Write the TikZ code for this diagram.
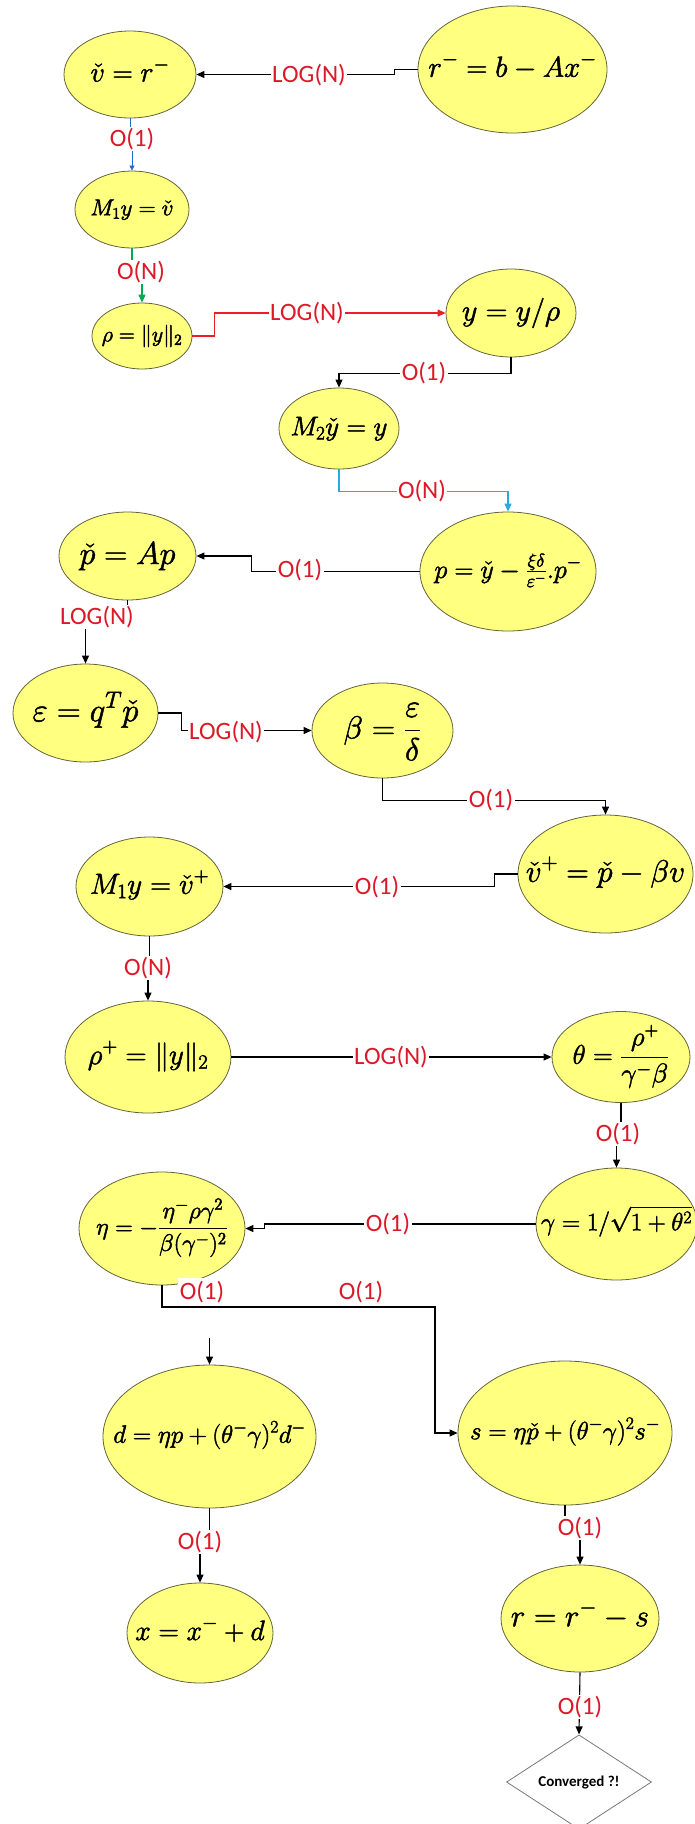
\RequirePackage{fix-cm}
\documentclass[tikz,border=0pt]{standalone}
\usepackage{amsmath}
\usepackage{fontspec}
\newfontfamily\labfont{Carlito}
\usetikzlibrary{shapes.geometric,arrows.meta,calc}
\definecolor{ellfill}{RGB}{255,255,128}
\definecolor{ellline}{RGB}{100,100,60}
\definecolor{labred}{RGB}{220,25,40}
\definecolor{conred}{RGB}{235,30,40}
\definecolor{concyan}{RGB}{40,170,225}
\definecolor{congreen}{RGB}{0,170,80}
\definecolor{conblue}{RGB}{30,110,200}
\newcommand\EQ[2]{{\fontsize{#1}{#1}\selectfont\color{black}\smash{\makebox[0pt]{\raisebox{-0.25em}{\special{pdf:literal direct 2 Tr 0.5 w}$\displaystyle #2$\special{pdf:literal direct 0 Tr}}}}}}
\begin{document}
\begin{tikzpicture}[x=1pt,y=-1pt,
  ell/.style={ellipse,draw=ellline,fill=ellfill,line width=0.8pt,inner sep=0pt},
  sz/.style 2 args={minimum width=#1,minimum height=#2},
  lbl/.style={font=\labfont\fontsize{25}{25}\selectfont,text=labred,fill=white,inner sep=1.5pt},
  conn/.style={line width=1.1pt,draw=black,-{Triangle[length=8pt,width=7pt]}},
  connred/.style={conn,draw=conred},
  conncyan/.style={conn,draw=concyan},
  conngreen/.style={conn,draw=congreen},
  connblue/.style={line width=0.6pt,draw=conblue,-{Triangle[length=5pt,width=5pt]}}]
\useasboundingbox (0,0) rectangle (695,1824);
\fill[white] (0,0) rectangle (695,1824);
% nodes
\node[ell,sz={132}{87}] (A) at (130,74.5) {\EQ{28}{\check{v} = r^-}};
\node[ell,sz={189}{127}] (B) at (512.5,69.5) {\EQ{29}{r^- = b - Ax^-}};
\node[ell,sz={114}{77}] (C) at (132,209.5) {\EQ{23}{M_1y = \check{v}}};
\node[ell,sz={100}{66}] (D) at (142,336) {\EQ{22}{\rho = \|y\|_2}};
\node[ell,sz={130}{88}] (E) at (511,313) {\EQ{30}{y = y/\rho}};
\node[ell,sz={120}{81}] (F) at (339,428.5) {\EQ{27}{M_2\check{y} = y}};
\node[ell,sz={176}{119}] (G) at (508,571.5) {\EQ{26}{p = \check{y} - \tfrac{\xi\delta}{\varepsilon^-}.p^-}};
\node[ell,sz={137}{88}] (H) at (127.5,556) {\EQ{32}{\check{p} = Ap}};
\node[ell,sz={145}{98}] (I) at (85.5,713) {\EQ{33}{\varepsilon = q^T\check{p}}};
\node[ell,sz={141}{95}] (J) at (382.5,730.5) {\EQ{32}{\beta = \frac{\varepsilon}{\delta}}};
\node[ell,sz={175}{118}] (K) at (605.5,874) {\EQ{31}{\check{v}^+ = \check{p} - \beta v}};
\node[ell,sz={147}{99}] (L) at (149.5,886.5) {\EQ{29}{M_1y = \check{v}^+}};
\node[ell,sz={166}{112}] (M) at (148,1057) {\EQ{29}{\rho^+ = \|y\|_2}};
\node[ell,sz={138}{91}] (N) at (621,1057) {\EQ{27}{\theta = \frac{\rho^+}{\gamma^-\beta}}};
\node[ell,sz={161}{112}] (O) at (616.5,1224) {\EQ{25}{\gamma = 1/\sqrt{1+\theta^2}}};
\node[ell,sz={166}{113}] (P) at (162,1228.5) {\EQ{24}{\eta = -\frac{\eta^-\rho\gamma^2}{\beta(\gamma^-)^2}}};
\node[ell,sz={213}{143}] (Q) at (209.5,1436.5) {\EQ{25}{d = \eta p + (\theta^-\gamma)^2 d^-}};
\node[ell,sz={214}{144}] (R) at (565,1433) {\EQ{25}{s = \eta\check{p} + (\theta^-\gamma)^2 s^-}};
\node[ell,sz={146}{100}] (S) at (200,1633) {\EQ{28}{x = x^- + d}};
\node[ell,sz={158}{107}] (T) at (580,1618.5) {\EQ{31}{r = r^- - s}};
\node[diamond,draw={rgb,255:red,120;green,120;blue,120},line width=0.8pt,fill=white,inner sep=0pt,
  minimum width=145,minimum height=84,font=\labfont\bfseries\fontsize{15}{15}\selectfont] (U) at (579,1782) {Converged ?!};
% connectors
\draw[conn] (B.west) -- ++(-23,0) |- (A.east);
\draw[connblue] (A.south) -- ++(0,20) -| (C.north);
\draw[conngreen] (C.south) -- ++(0,22) -| (D.north);
\draw[connred] (D.east) -- ++(22,0) |- (E.west);
\draw[conn] (E.south) -- ++(0,16) -| (F.north);
\draw[conncyan] (F.south) -- ++(0,22) -| (G.north);
\draw[conn] (G.west) -- ++(-168,0) |- (H.east);
\draw[conn] (H.south) -- ++(0,17) -| (I.north);
\draw[conn] (I.east) -- ++(23,0) |- (J.west);
\draw[conn] (J.south) -- ++(0,22) -| (K.north);
\draw[conn] (K.west) -- ++(-23,0) |- (L.east);
\draw[conn] (L.south) -- ++(0,32) -| (M.north);
\draw[conn] (M.east) -- (N.west);
\draw[conn] (N.south) -- ++(0,31) -| (O.north);
\draw[conn] (O.west) -- ++(-271,0) |- (P.east);
\coordinate (pr) at (435,1307);
\draw[conn] (P.south) |- (pr) |- (R.west);
\coordinate (qin) at (209.5,1338);
\draw[conn] (qin) -- (Q.north);
\draw[conn] (Q.south) -- ++(0,34) -| (S.north);
\draw[conn] (R.south) -- ++(0,23) -| (T.north);
\draw[conn] (T.south) -- (U.north);
% labels
\node[lbl] (l1) at (309,75) {LOG(N)};
\node[lbl] (l2) at (132,139) {O(1)};
\node[lbl] (l3) at (141,272) {O(N)};
\node[lbl] (l4) at (307,313) {LOG(N)};
\node[lbl] (l5) at (424,373) {O(1)};
\node[lbl] (l6) at (422,491) {O(N)};
\node[lbl] (l7) at (300,570) {O(1)};
\node[lbl] (l8) at (97,617) {LOG(N)};
\node[lbl] (l9) at (226,732) {LOG(N)};
\node[lbl] (l10) at (491,800) {O(1)};
\node[lbl] (l11) at (377,887) {O(1)};
\node[lbl] (l12) at (148,968) {O(N)};
\node[lbl] (l13) at (391,1057) {LOG(N)};
\node[lbl] (l14) at (618,1134) {O(1)};
\node[lbl] (l15) at (388,1224) {O(1)};
\node[lbl,inner ysep=3pt] (l16) at (202,1292) {O(1)};
\node[lbl,inner ysep=3pt] (l17) at (361,1292) {O(1)};
\node[lbl] (l18) at (200,1542) {O(1)};
\node[lbl] (l19) at (580,1528) {O(1)};
\node[lbl] (l20) at (580,1707) {O(1)};
\end{tikzpicture}
\end{document}
